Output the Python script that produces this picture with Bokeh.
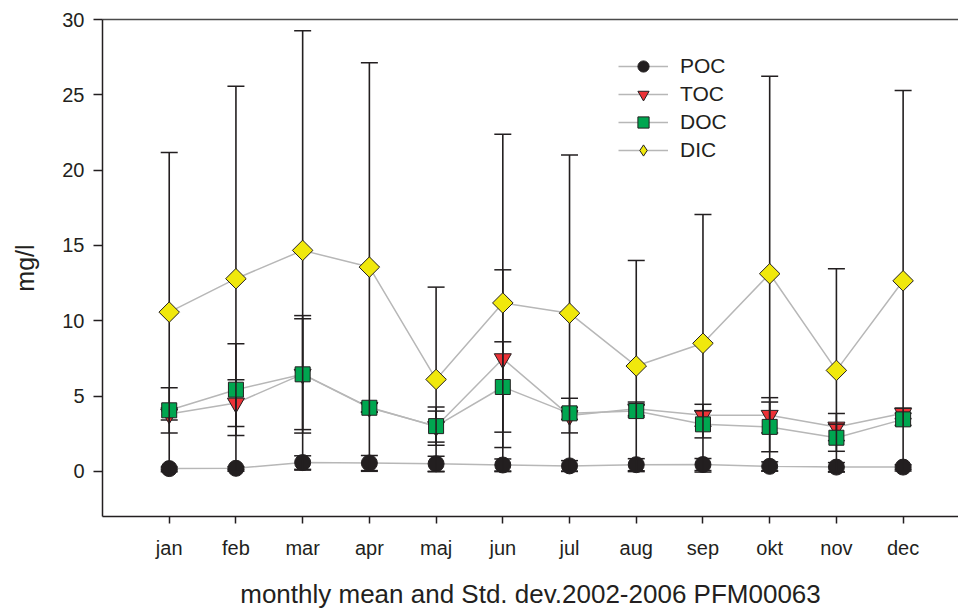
import numpy as np
from bokeh.plotting import figure
from bokeh.models import (ColumnDataSource, FixedTicker, Legend, LegendItem,
                          LinearAxis, Range1d)
from bokeh.embed import file_html
from bokeh.resources import INLINE

# ---------------- data ----------------
months = ["jan", "feb", "mar", "apr", "maj", "jun", "jul", "aug", "sep", "okt", "nov", "dec"]

poc_mean = [0.18, 0.20, 0.58, 0.55, 0.50, 0.42, 0.36, 0.44, 0.45, 0.33, 0.28, 0.28]
poc_sd   = [0.10, 0.10, 0.45, 0.50, 0.50, 0.40, 0.35, 0.40, 0.40, 0.30, 0.30, 0.15]

toc_mean = [3.80, 4.53, 6.45, 4.25, 2.97, 7.48, 3.70, 4.15, 3.72, 3.72, 2.94, 3.85]
toc_sd   = [0.40, 1.55, 3.68, 0.30, 1.03, 5.90, 1.15, 0.45, 0.73, 1.17, 0.90, 0.35]

doc_mean = [4.05, 5.42, 6.44, 4.22, 3.00, 5.60, 3.85, 4.00, 3.12, 2.95, 2.23, 3.45]
doc_sd   = [1.50, 3.05, 3.90, 0.30, 1.27, 3.00, 0.40, 0.40, 0.90, 1.65, 0.90, 0.40]

dic_mean = [10.57, 12.79, 14.67, 13.56, 6.10, 11.18, 10.50, 6.99, 8.50, 13.12, 6.70, 12.65]
dic_sd   = [10.60, 12.78, 14.59, 13.56, 6.13, 11.20, 10.51, 7.01, 8.55, 13.11, 6.75, 12.63]

y_ticks = [0, 5, 10, 15, 20, 25, 30]

# ---------------- styling ----------------
FONT = "Liberation Sans"
TXT = "#231f20"
DARK = "#231f20"
LINE_GRAY = "#b7b7b7"

x = np.arange(1, len(months) + 1)


def make_source(mean, sd):
    m = np.array(mean)
    s = np.array(sd)
    return ColumnDataSource(dict(x=x, mean=m, lo=m - s, hi=m + s))


src_poc = make_source(poc_mean, poc_sd)
src_toc = make_source(toc_mean, toc_sd)
src_doc = make_source(doc_mean, doc_sd)
src_dic = make_source(dic_mean, dic_sd)

p = figure(frame_width=856, frame_height=497,
           x_range=Range1d(0, 12.83), y_range=Range1d(-3, 30),
           output_backend="svg", toolbar_location=None,
           min_border_left=102, min_border_right=0,
           min_border_top=19, min_border_bottom=92)
p.xgrid.visible = False
p.ygrid.visible = False
p.outline_line_color = None
p.background_fill_color = "white"
p.border_fill_color = "white"

# axes
xa = p.xaxis[0]
xa.ticker = FixedTicker(ticks=list(x))
xa.major_label_overrides = {int(i): m for i, m in zip(x, months)}
xa.minor_tick_line_color = None
xa.major_tick_out = 7
xa.major_tick_in = 0
xa.major_label_standoff = 13
xa.axis_label = "monthly mean and Std. dev.2002-2006 PFM00063"
xa.axis_label_text_font_style = "normal"
xa.axis_label_text_font_size = "26px"
xa.axis_label_standoff = 17

ya = p.yaxis[0]
ya.ticker = FixedTicker(ticks=y_ticks)
ya.minor_tick_line_color = None
ya.major_tick_out = 9
ya.major_tick_in = 0
ya.major_label_standoff = 9
ya.axis_label = "mg/l"
ya.axis_label_text_font_style = "normal"
ya.axis_label_text_font_size = "25px"
ya.axis_label_standoff = 20

for ax in (xa, ya):
    ax.axis_line_color = DARK
    ax.axis_line_width = 1.5
    ax.major_tick_line_color = DARK
    ax.major_tick_line_width = 1.5
    ax.major_label_text_font = FONT
    ax.major_label_text_font_size = "20px"
    ax.major_label_text_color = TXT
    ax.axis_label_text_font = FONT
    ax.axis_label_text_color = TXT

top = LinearAxis(ticker=FixedTicker(ticks=[]), major_label_text_font_size="0px",
                 major_tick_out=0, major_tick_in=0, minor_tick_out=0, minor_tick_in=0,
                 major_label_standoff=0, axis_line_color="#4a4a4a", axis_line_width=1.5)
p.add_layout(top, "above")

# connecting lines
lines = {}
for name, s in (("POC", src_poc), ("TOC", src_toc), ("DOC", src_doc), ("DIC", src_dic)):
    lines[name] = p.line("x", "mean", source=s, line_color=LINE_GRAY, line_width=1.5)


def errorbars(s):
    p.segment(x0="x", y0="lo", x1="x", y1="hi", source=s, line_color=DARK, line_width=1.6)
    p.scatter("x", "hi", source=s, marker="dash", size=17, line_color=DARK, line_width=1.5)
    p.scatter("x", "lo", source=s, marker="dash", size=17, line_color=DARK, line_width=1.5)


errorbars(src_poc)
m_poc = p.scatter("x", "mean", source=src_poc, marker="circle", size=16,
                  fill_color="#231f20", line_color=DARK, line_width=1)
errorbars(src_toc)
m_toc = p.scatter("x", "mean", source=src_toc, marker="inverted_triangle", size=17,
                  fill_color="#ec3237", line_color=DARK, line_width=1)
errorbars(src_doc)
m_doc = p.scatter("x", "mean", source=src_doc, marker="square", size=15,
                  fill_color="#00a650", line_color=DARK, line_width=1)
errorbars(src_dic)
m_dic = p.scatter("x", "mean", source=src_dic, marker="square", size=14.5, angle=np.pi / 4,
                  fill_color="#f0e80c", line_color=DARK, line_width=1)
# legend-only glyph (hidden in the plot) with a diamond shape
proxy_dic = p.scatter("x", "mean", source=src_dic, marker="diamond", size=14,
                      fill_color="#f0e80c", line_color=DARK, line_width=1, visible=False)

legend = Legend(items=[
    LegendItem(label="POC", renderers=[lines["POC"], m_poc]),
    LegendItem(label="TOC", renderers=[lines["TOC"], m_toc]),
    LegendItem(label="DOC", renderers=[lines["DOC"], m_doc]),
    LegendItem(label="DIC", renderers=[lines["DIC"], proxy_dic]),
], location=(516, 352), glyph_width=50, glyph_height=28, spacing=0,
    padding=0, margin=0, border_line_color=None, background_fill_alpha=0,
    label_text_font=FONT, label_text_font_size="21px", label_text_color=TXT,
    label_standoff=12, label_height=28)
p.add_layout(legend)

open("out.html", "w").write(file_html(p, INLINE))
